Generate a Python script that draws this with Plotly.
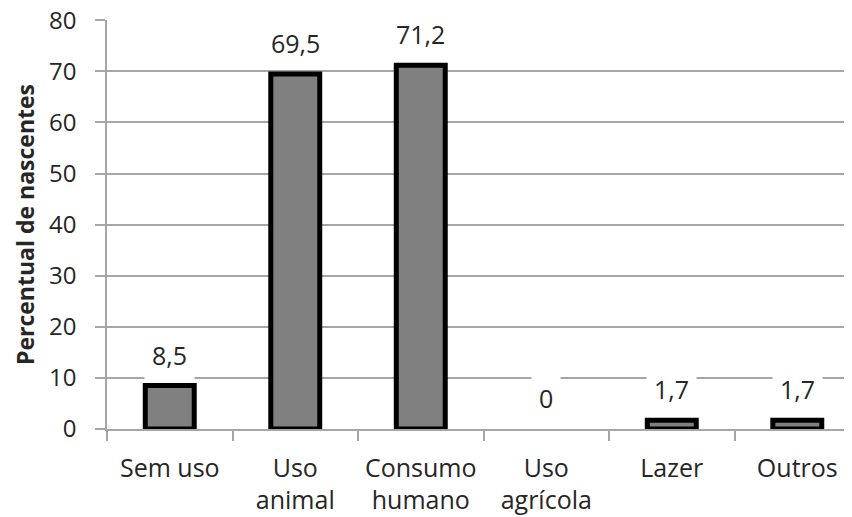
import plotly.graph_objects as go

categories = ["Sem uso", "Uso<br>animal", "Consumo<br>humano", "Uso<br>agrícola", "Lazer", "Outros"]
values = [8.5, 69.5, 71.2, 0, 1.7, 1.7]
labels = ["8,5", "69,5", "71,2", "0", "1,7", "1,7"]
y_ticks = [0, 10, 20, 30, 40, 50, 60, 70, 80]

FONT = "Open Sans"
TXT = "#262626"
GRID = "#a6a6a6"

fig = go.Figure()
fig.add_trace(go.Bar(
    x=categories, y=values, width=0.39,
    marker=dict(color="#808080",
                line=dict(color="#000000", width=[5 if v > 0 else 0 for v in values])),
    hoverinfo="skip",
))

for c, v, t in zip(categories, values, labels):
    fig.add_annotation(x=c, y=v, text=t, showarrow=False, yanchor="middle",
                       yshift=31, bgcolor="white", borderpad=7,
                       font=dict(family=FONT, size=25, color=TXT))

# page body has an 8px margin, so the figure is offset by 8px in the window
fig.update_layout(
    width=844, height=509,
    margin=dict(l=99, r=0, t=12, b=88, autoexpand=False),
    paper_bgcolor="white", plot_bgcolor="white",
    showlegend=False,
    xaxis=dict(
        type="category", range=[-0.5, 5.436], automargin=False,
        showline=True, linecolor=GRID, linewidth=1.5,
        ticks="outside", ticklen=10, tickcolor=GRID, tickwidth=1.5,
        tickson="boundaries", showgrid=False, ticklabelstandoff=16,
        ticklabeloverflow="allow",
        tickfont=dict(family=FONT, size=25, color=TXT),
    ),
    yaxis=dict(
        range=[0, 80.05], tickvals=y_ticks, automargin=False,
        showline=True, linecolor=GRID, linewidth=1.5,
        ticks="outside", ticklen=10, tickcolor=GRID, tickwidth=1.5,
        showgrid=True, gridcolor=GRID, gridwidth=1.5, zeroline=False,
        ticklabelstandoff=14, ticklabeloverflow="allow",
        tickfont=dict(family=FONT, size=24, color=TXT),
        title=dict(text="<b>Percentual de nascentes</b>",
                   font=dict(family=FONT, size=23, color=TXT), standoff=8),
    ),
)

fig.write_html("out.html")
